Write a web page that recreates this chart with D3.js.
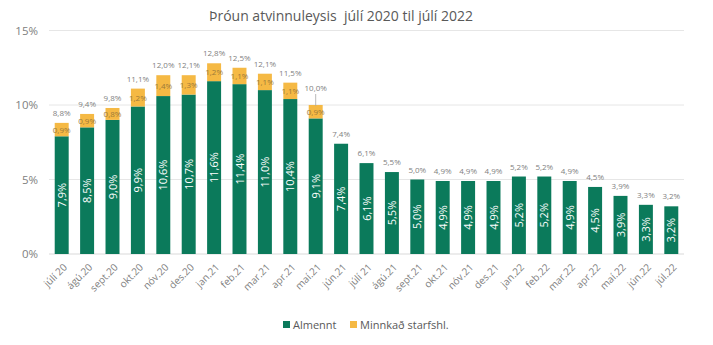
<!DOCTYPE html>
<html><head><meta charset="utf-8">
<script src="https://cdn.jsdelivr.net/npm/d3@7"></script>
<style>
body{margin:0;background:#fff;}
svg{display:block;font-family:"Open Sans",sans-serif;}
.title{white-space:pre;}
</style></head>
<body><svg id="c" width="713" height="345"></svg>
<script>
const categories = ["júlí 20","ágú.20","sept.20","okt.20","nóv.20","des.20","jan.21","feb.21","mar.21","apr.21","maí.21","jún.21","júlí 21","ágú.21","sept.21","okt.21","nóv.21","des.21","jan.22","feb.22","mar.22","apr.22","maí.22","jún.22","júl.22"];
const almennt = [7.9,8.5,9.0,9.9,10.6,10.7,11.6,11.4,11.0,10.4,9.1,7.4,6.1,5.5,5.0,4.9,4.9,4.9,5.2,5.2,4.9,4.5,3.9,3.3,3.2];
const minnkad = [0.9,0.9,0.8,1.2,1.4,1.3,1.2,1.1,1.1,1.1,0.9,0,0,0,0,0,0,0,0,0,0,0,0,0,0];
const totals = [8.8,9.4,9.8,11.1,12.0,12.1,12.8,12.5,12.1,11.5,10.0,7.4,6.1,5.5,5.0,4.9,4.9,4.9,5.2,5.2,4.9,4.5,3.9,3.3,3.2];
const yTicks = [0,5,10,15];
const seriesNames = ["Almennt","Minnkað starfshl."];
const title = "Þróun atvinnuleysis  júlí 2020 til júlí 2022";

const green = "#0b7a5b", orange = "#f5b944";
const svg = d3.select("#c");
const fmt = v => d3.format(".1f")(v).replace(".", ",") + "%";

const x = d3.scaleBand().domain(categories).range([49, 684]).paddingInner(0.45).paddingOuter(0.225);
const y = d3.scaleLinear().domain([0, 15]).range([254, 30.5]);

svg.append("text").attr("class", "title").attr("x", 341).attr("y", 21).attr("text-anchor", "middle")
  .attr("font-size", 14).attr("fill", "#595959").text(title);

// grid
svg.append("g").selectAll("line").data(yTicks).join("line")
  .attr("x1", 49).attr("x2", 684).attr("y1", d => y(d)).attr("y2", d => y(d))
  .attr("stroke", d => d === 0 ? "#d9d9d9" : "#e6e6e6").attr("stroke-width", 1);

// y axis labels
const yAxis = d3.axisLeft(y).tickValues(yTicks).tickFormat(d => d + "%").tickSize(0).tickPadding(0);
const yg = svg.append("g").attr("transform", "translate(38,0)").call(yAxis);
yg.select(".domain").remove();
yg.selectAll("text").attr("font-size", 11.5).attr("fill", "#808080").attr("font-family", "Open Sans");

const data = categories.map((c, i) => ({c, a: almennt[i], m: minnkad[i], t: totals[i]}));

// bars
svg.append("g").selectAll("rect").data(data).join("rect")
  .attr("x", d => x(d.c)).attr("width", x.bandwidth())
  .attr("y", d => y(d.a)).attr("height", d => y(0) - y(d.a)).attr("fill", green);
svg.append("g").selectAll("rect").data(data.filter(d => d.m > 0)).join("rect")
  .attr("x", d => x(d.c)).attr("width", x.bandwidth())
  .attr("y", d => y(d.a + d.m)).attr("height", d => y(d.a) - y(d.a + d.m)).attr("fill", orange);

// green labels
svg.append("g").selectAll("text").data(data).join("text")
  .attr("transform", d => `translate(${x(d.c) + x.bandwidth()/2 + 4},${(y(d.a) + y(0))/2}) rotate(-90)`)
  .attr("text-anchor", "middle").attr("font-size", 11).attr("fill", "#ffffff").text(d => fmt(d.a));

// orange labels
svg.append("g").selectAll("text").data(data.filter(d => d.m > 0)).join("text")
  .attr("x", d => x(d.c) + x.bandwidth()/2).attr("y", d => (y(d.a) + y(d.a + d.m))/2 + 3)
  .attr("text-anchor", "middle").attr("font-size", 8).attr("fill", "#9c7a3a").text(d => fmt(d.m));

// total labels
const lifted = "maí.21";
const tg = svg.append("g");
tg.selectAll("text").data(data).join("text")
  .attr("x", d => x(d.c) + x.bandwidth()/2)
  .attr("y", d => y(d.a + d.m) - (d.c === lifted ? 14 : 7))
  .attr("text-anchor", "middle").attr("font-size", 8).attr("fill", "#7f7f7f").text(d => fmt(d.t));
tg.selectAll("line").data(data.filter(d => d.c === lifted)).join("line")
  .attr("x1", d => x(d.c) + x.bandwidth()/2).attr("x2", d => x(d.c) + x.bandwidth()/2)
  .attr("y1", d => y(d.a + d.m) - 11).attr("y2", d => y(d.a + d.m) + 1)
  .attr("stroke", "#a6a6a6").attr("stroke-width", 0.8);

// x labels
svg.append("g").selectAll("text").data(categories).join("text")
  .attr("transform", d => `translate(${x(d) + x.bandwidth()/2 + 6},${268}) rotate(-45)`)
  .attr("text-anchor", "end").attr("font-size", 10).attr("fill", "#7f7f7f").text(d => d);

// legend
const lg = svg.append("g");
const lx = [283, 350];
const lc = [green, orange];
seriesNames.forEach((n, i) => {
  lg.append("rect").attr("x", lx[i]).attr("y", 321).attr("width", 7).attr("height", 7).attr("fill", lc[i]);
  lg.append("text").attr("x", lx[i] + 10).attr("y", 328.5).attr("font-size", 11).attr("fill", "#595959").text(n);
});
</script></body></html>
